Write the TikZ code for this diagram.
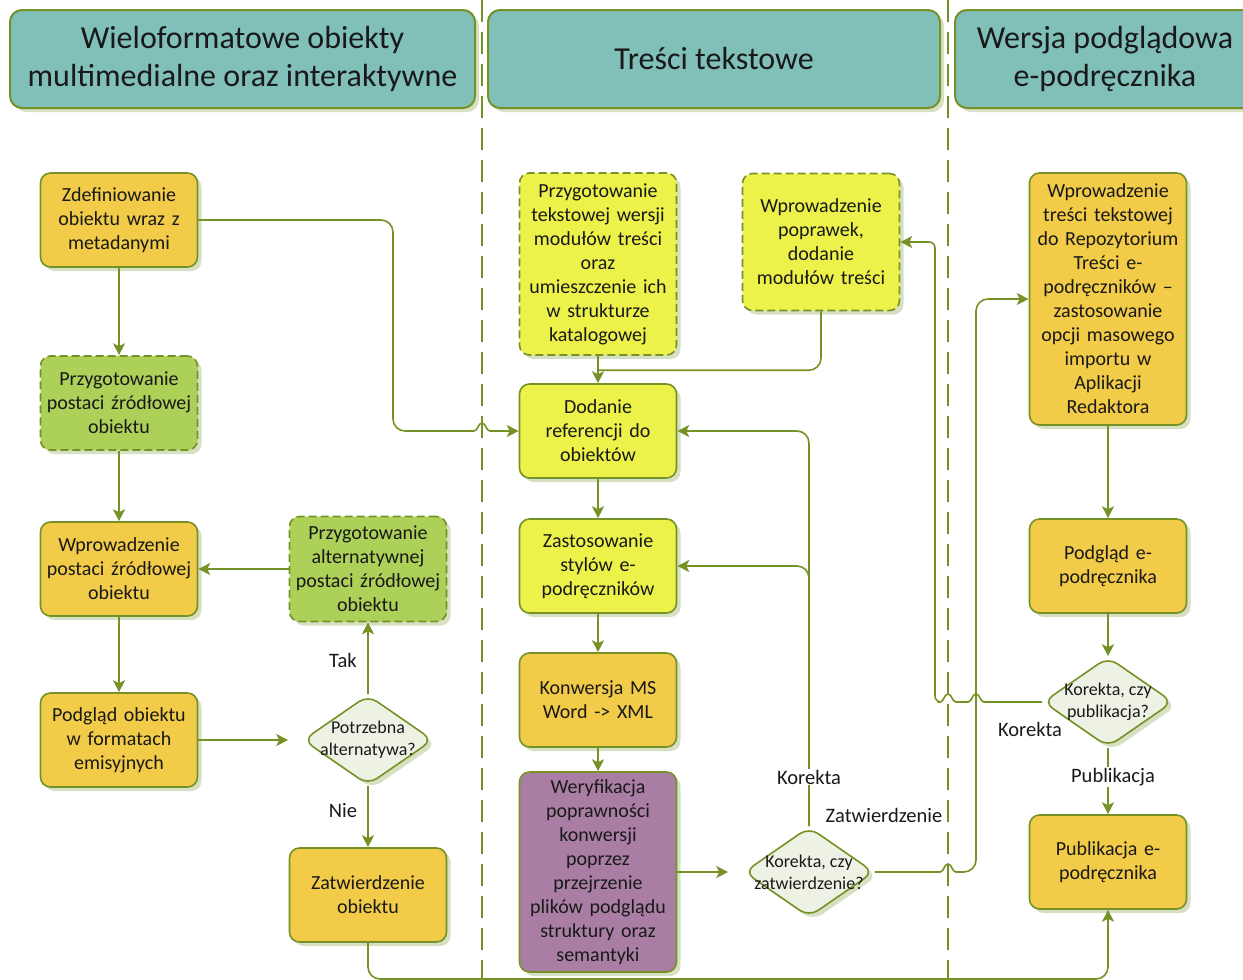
\documentclass[tikz,border=0pt]{standalone}
\usepackage{fontspec}
\setmainfont{Carlito}
\usepackage{tikz}
\usetikzlibrary{shapes.geometric, arrows.meta, shadows}
\definecolor{mygreen}{RGB}{118,146,38}
\definecolor{mydark}{RGB}{25,25,25}
\definecolor{myteal}{RGB}{128,192,184}
\definecolor{myorange}{RGB}{242,203,72}
\definecolor{myyellow}{RGB}{237,242,74}
\definecolor{mylime}{RGB}{172,208,88}
\definecolor{mypurple}{RGB}{170,126,164}
\definecolor{mydiafill}{RGB}{238,242,228}
\definecolor{myshadow}{RGB}{214,224,194}
\tikzset{
  lanehdr/.style={rectangle, draw=mygreen, fill=myteal, rounded corners=12pt,
    minimum height=98pt, align=center, line width=2pt, text=mydark,
    font=\fontsize{32}{38}\selectfont,
    drop shadow={shadow xshift=4pt, shadow yshift=-4pt, fill=myshadow, opacity=1}},
  procbox/.style={rectangle, draw=mygreen, rounded corners=10pt,
    text width=152pt, minimum width=157pt, minimum height=94pt, inner sep=2pt,
    align=center, line width=1.6pt, text=mydark,
    font=\fontsize{20}{24}\selectfont,
    drop shadow={shadow xshift=4pt, shadow yshift=-4pt, fill=myshadow, opacity=1}},
  orbox/.style={procbox, fill=myorange},
  yelbox/.style={procbox, fill=myyellow},
  optyel/.style={procbox, fill=myyellow, dash pattern=on 8pt off 4pt},
  optlime/.style={procbox, fill=mylime, dash pattern=on 8pt off 4pt},
  purbox/.style={procbox, fill=mypurple},
  decision/.style={diamond, draw=mygreen, fill=mydiafill, line width=1.6pt,
    minimum width=130pt, minimum height=90pt, inner sep=0pt, rounded corners=11pt,
    drop shadow={shadow xshift=4pt, shadow yshift=-4pt, fill=myshadow, opacity=1}},
  conn/.style={-{Stealth[length=12pt, width=12pt, inset=3pt]}, line width=1.6pt, color=mygreen},
  lane/.style={draw=mygreen, line width=2pt, dash pattern=on 22pt off 10pt},
  lbl/.style={font=\fontsize{20.5}{24}\selectfont, text=mydark, inner sep=1pt}
}
\newcommand{\diatext}{\fontsize{18}{22}\selectfont}

\begin{document}
\begin{tikzpicture}[x=1pt, y=-1pt]
  \useasboundingbox (0,0) rectangle (1243,980);
  \clip (0,0) rectangle (1243,980);

  % Lane separators
  \draw[lane] (482,0) -- (482,980);
  \draw[lane] (948,0) -- (948,980);

  % Lane headers
  \node[lanehdr, minimum width=465pt] (hdrobj) at (242.5,59) {Wieloformatowe obiekty\\multimedialne oraz interaktywne};
  \node[lanehdr, minimum width=452pt] (hdrtxt) at (714,59) {Treści tekstowe};
  \node[lanehdr, minimum width=300pt] (hdrprev) at (1105,59) {Wersja podglądowa\\e-podręcznika};

  % Objects lane
  \node[orbox] (zdef) at (119,220) {Zdefiniowanie\\obiektu wraz z\\metadanymi};
  \node[optlime] (przsrc) at (119,403) {Przygotowanie\\postaci źródłowej\\obiektu};
  \node[orbox] (wprsrc) at (119,569) {Wprowadzenie\\postaci źródłowej\\obiektu};
  \node[orbox] (podobj) at (119,740) {Podgląd obiektu\\w formatach\\emisyjnych};
  \node[optlime, minimum height=105pt] (przalt) at (368,569) {Przygotowanie\\alternatywnej\\postaci źródłowej\\obiektu};
  \node[decision, label={[font=\diatext, align=center, text=mydark]center:Potrzebna\\alternatywa?}] (dalt) at (368,740) {};
  \node[orbox] (zatobj) at (368,895) {Zatwierdzenie\\obiektu};

  % Text lane
  \node[optyel, minimum height=182pt] (przteks) at (598,264) {Przygotowanie\\tekstowej wersji\\modułów treści\\oraz\\umieszczenie ich\\w strukturze\\katalogowej};
  \node[optyel, minimum height=137pt] (wprpop) at (821,242) {Wprowadzenie\\poprawek,\\dodanie\\modułów treści};
  \node[yelbox] (dodref) at (598,431) {Dodanie\\referencji do\\obiektów};
  \node[yelbox] (zasty) at (598,566) {Zastosowanie\\stylów e-\\podręczników};
  \node[orbox] (konw) at (598,700) {Konwersja MS\\Word -> XML};
  \node[purbox, minimum height=200pt] (weryf) at (598,872) {Weryfikacja\\poprawności\\konwersji\\poprzez\\przejrzenie\\plików podglądu\\struktury oraz\\semantyki};
  \node[decision, label={[font=\diatext, align=center, text=mydark]center:Korekta, czy\\zatwierdzenie?}] (dkorz) at (809,872) {};

  % Preview lane
  \node[orbox, minimum height=252pt] (wprrep) at (1108,299) {Wprowadzenie\\treści tekstowej\\do Repozytorium\\Treści e-\\podręczników –\\zastosowanie\\opcji masowego\\importu w\\Aplikacji\\Redaktora};
  \node[orbox] (podep) at (1108,566) {Podgląd e-\\podręcznika};
  \node[decision, label={[font=\diatext, align=center, text=mydark]center:Korekta, czy\\publikacja?}] (dkorp) at (1108,702) {};
  \node[orbox] (pubep) at (1108,862) {Publikacja e-\\podręcznika};

  % Connectors, objects lane
  \draw[conn] (zdef.south) -- (przsrc.north);
  \draw[conn] (przsrc.south) -- (wprsrc.north);
  \draw[conn] (wprsrc.south) -- (podobj.north);
  \draw[conn, shorten >=14pt] (podobj.east) -- (dalt.west);
  \draw[conn] (dalt.north) -- (przalt.south);
  \draw[conn] (przalt.west) -- (wprsrc.east);
  \draw[conn] (dalt.south) -- (zatobj.north);
  \node[lbl] (ltak) at (343,660) {Tak};
  \node[lbl] (lnie) at (343,811) {Nie};
  \draw[conn, rounded corners=12pt] (zatobj.south) -- (368,979) -| (pubep.south);
  \draw[conn] (zdef.east) [rounded corners=12pt] -- (393,220) -- (393,431) [sharp corners] -- (474,431)
    .. controls (478,431) and (478,423) .. (482,423) .. controls (486,423) and (486,431) .. (490,431) -- (dodref.west);

  % Connectors, text lane
  \draw[conn] (przteks.south) -- (dodref.north);
  \draw[line width=1.6pt, color=mygreen, rounded corners=12pt] (wprpop.south) |- ([yshift=13pt]dodref.north);
  \draw[conn] (dodref.south) -- (zasty.north);
  \draw[conn] (zasty.south) -- (konw.north);
  \draw[conn] (konw.south) -- (weryf.north);
  \draw[conn, shorten >=15pt] (weryf.east) -- (dkorz.west);
  \draw[conn, rounded corners=12pt] (dkorz.north) |- (dodref.east);
  \draw[conn, rounded corners=12pt] (dkorz.north) |- (zasty.east);
  \node[lbl, fill=white] (lkorz) at (809,777) {Korekta};
  \node[lbl] (lzatw) at (884,815) {Zatwierdzenie};
  \draw[conn] (dkorz.east) -- (940,872)
    .. controls (944,872) and (944,864) .. (948,864) .. controls (952,864) and (952,872) .. (956,872)
    [rounded corners=12pt] -- (976,872) |- (wprrep.west);

  % Connectors, preview lane
  \draw[conn] (wprrep.south) -- (podep.north);
  \draw[conn] (podep.south) -- (dkorp.north);
  \draw[conn] (dkorp.south) -- (pubep.north);
  \node[lbl, fill=white] (lpub) at (1113,777) {Publikacja};
  \node[lbl] (lkorp) at (1030,729) {Korekta};
  \draw[conn] (dkorp.west) -- (984,702)
    .. controls (980,702) and (980,694) .. (976,694) .. controls (972,694) and (972,702) .. (968,702)
    -- (956,702)
    .. controls (952,702) and (952,694) .. (948,694) .. controls (944,694) and (944,702) .. (940,702)
    [rounded corners=6pt] -- (935,702) |- (wprpop.east);
\end{tikzpicture}
\end{document}
